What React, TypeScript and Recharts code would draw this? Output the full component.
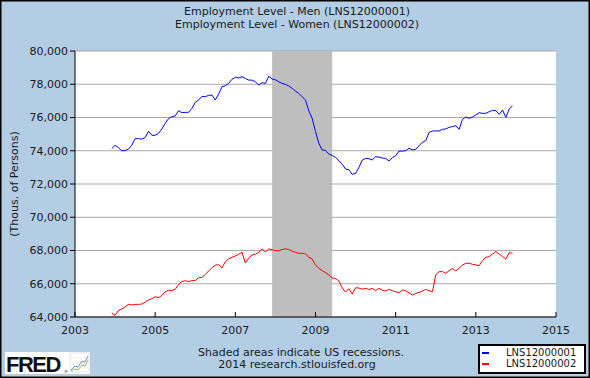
import React from 'react';
import { LineChart, Line, XAxis, YAxis, CartesianGrid, ReferenceArea } from 'recharts';

const FONT = '"DejaVu Sans", Verdana, sans-serif';
const TEXT = '#1a1a1a';

// monthly observations, Dec 2003 .. Dec 2013 (thousands of persons)
const firstYear = 2003;
const firstMonth = 12;

const men = [
  74130, 74330, 74180, 74000, 74010, 74100, 74330, 74730, 74730, 74700,
  74790, 75170, 74930, 74930, 75050, 75310, 75650, 75930, 76050, 76090,
  76410, 76290, 76310, 76310, 76550, 76910, 77050, 77270, 77250, 77330,
  77350, 77050, 77410, 77850, 77910, 78050, 78300, 78420, 78380, 78450,
  78350, 78250, 78250, 78150, 77950, 78090, 78050, 78480, 78320, 78270,
  78150, 78050, 77990, 77900, 77750, 77590, 77450, 77250, 77050, 76400,
  75950, 75150, 74450, 74040, 74020, 73800, 73720, 73600, 73400, 73180,
  72900, 72860, 72580, 72640, 73000, 73440, 73540, 73520, 73450, 73640,
  73620, 73560, 73540, 73380, 73580, 73700, 73980, 73980, 74000, 74150,
  74050, 74090, 74300, 74510, 74600, 75100, 75190, 75190, 75190, 75290,
  75310, 75410, 75450, 75510, 75290, 75890, 76030, 75950, 76030, 76150,
  76290, 76250, 76250, 76350, 76430, 76410, 76190, 76450, 76010, 76510,
  76710,
];

const women = [
  64240, 64100, 64390, 64480, 64620, 64760, 64720, 64760, 64760, 64780,
  64900, 65020, 65100, 65220, 65160, 65300, 65520, 65600, 65600, 65660,
  65950, 66140, 66180, 66140, 66180, 66200, 66360, 66380, 66550, 66770,
  66970, 67110, 67150, 66950, 67330, 67490, 67590, 67670, 67770, 67890,
  67250, 67550, 67730, 67770, 67890, 68100, 67910, 68100, 68040, 68000,
  67980, 68060, 68100, 68060, 67960, 67890, 67830, 67830, 67810, 67590,
  67490, 67130, 66930, 66790, 66670, 66530, 66350, 66310, 66170, 65750,
  65500, 65700, 65380, 65760, 65740, 65680, 65720, 65660, 65720, 65600,
  65720, 65620, 65560, 65660, 65580, 65520, 65460, 65620, 65580, 65460,
  65320, 65420, 65480, 65560, 65660, 65580, 65520, 66530, 66730, 66730,
  66630, 66790, 66910, 66770, 66930, 67130, 67230, 67230, 67170, 67130,
  67090, 67390, 67590, 67630, 67790, 67930, 67790, 67630, 67490, 67870,
  67830,
];

const yearTicks = [2003, 2005, 2007, 2009, 2011, 2013, 2015];
const valueTicks = [64000, 66000, 68000, 70000, 72000, 74000, 76000, 78000, 80000];

// Dec 2007 - Jun 2009
const recessionStart = 2007 + 11 / 12;
const recessionEnd = 2009 + 5 / 12;

const data = men.map((v, i) => ({
  t: firstYear + (firstMonth - 1 + i) / 12,
  men: v,
  women: women[i],
}));

const YearTick = (props: any) => {
  const { x, y, payload } = props;
  return (
    <g>
      <line x1={x} x2={x} y1={y} y2={y - 5} stroke="#000" />
      <text x={x} y={y + 17} textAnchor="middle" fontSize={11} fill={TEXT} fontFamily={FONT}>
        {payload.value}
      </text>
    </g>
  );
};

const fmt = (v: number) => v.toLocaleString('en-US');

export default function App() {
  return (
    <div style={{ position: 'absolute', left: 0, top: 0, width: 590, height: 378, background: '#b3cde5' }}>
      <div style={{ position: 'absolute', left: 0, top: 0 }}>
        <LineChart width={590} height={378} data={data} margin={{ top: 51, right: 34, bottom: 0, left: 0 }}>
          <CartesianGrid vertical={false} stroke="#a9a9a9" fill="#ffffff" />
          <ReferenceArea x1={recessionStart} x2={recessionEnd} fill="#bebebe" fillOpacity={1} stroke="none" />
          <XAxis
            dataKey="t"
            type="number"
            domain={[2003, 2015]}
            ticks={yearTicks}
            interval={0}
            height={61}
            tickSize={0}
            tickMargin={0}
            tick={<YearTick />}
            axisLine={{ stroke: '#000' }}
          />
          <YAxis
            type="number"
            domain={[64000, 80000]}
            ticks={valueTicks}
            interval={0}
            width={75}
            tickSize={5}
            tickMargin={2}
            tickFormatter={fmt}
            tick={{ fontSize: 11, fill: TEXT, fontFamily: FONT }}
            tickLine={{ stroke: '#000' }}
            axisLine={{ stroke: '#000' }}
          />
          <Line type="linear" dataKey="men" stroke="#0000ff" strokeWidth={1} dot={false} isAnimationActive={false} />
          <Line type="linear" dataKey="women" stroke="#ff0000" strokeWidth={1} dot={false} isAnimationActive={false} />
        </LineChart>
      </div>
      <svg width={590} height={378} style={{ position: 'absolute', left: 0, top: 0, pointerEvents: 'none' }}>
        <g fontFamily={FONT} fill={TEXT} fontSize={11}>
          <text x={297} y={15} textAnchor="middle">Employment Level - Men (LNS12000001)</text>
          <text x={297} y={28} textAnchor="middle">Employment Level - Women (LNS12000002)</text>
          <text x={18} y={184} textAnchor="middle" transform="rotate(-90 18 184)">(Thous. of Persons)</text>
          <text x={301} y={356} textAnchor="middle">Shaded areas indicate US recessions.</text>
          <text x={297} y={368} textAnchor="middle">2014 research.stlouisfed.org</text>
        </g>
        <g>
          <rect x={479} y={345} width={106} height={28} fill="#fff" stroke="#000" strokeWidth={2} />
          <line x1={482} x2={489} y1={353} y2={353} stroke="#0000ff" strokeWidth={2} />
          <line x1={482} x2={489} y1={364} y2={364} stroke="#ff0000" strokeWidth={2} />
          <text x={506} y={356} fontSize={10} fontFamily={FONT} fill={TEXT}>LNS12000001</text>
          <text x={506} y={367} fontSize={10} fontFamily={FONT} fill={TEXT}>LNS12000002</text>
        </g>
        <g>
          <rect x={5} y={352} width={85} height={22} fill="#fff" />
          <text x={6} y={372} fontSize={22} fontWeight="bold" letterSpacing={-1.5} fontFamily='"Liberation Sans", Arial, sans-serif' fill="#111">FRED</text>
          <text x={64} y={373} fontSize={4} fontFamily={FONT} fill="#111">®</text>
          <rect x={70} y={353} width={19} height={19} fill="#fff" stroke="#ccc" strokeWidth={0.5} />
          <line x1={70} x2={89} y1={358} y2={358} stroke="#ddd" strokeWidth={0.5} />
          <line x1={70} x2={89} y1={363} y2={363} stroke="#ddd" strokeWidth={0.5} />
          <line x1={70} x2={89} y1={368} y2={368} stroke="#ddd" strokeWidth={0.5} />
          <polyline points="71,370 75,366 78,367 82,361 85,362 88,356" fill="none" stroke="#6a8fd0" strokeWidth={1} />
          <polyline points="71,371 75,369 78,370 82,365 85,366 88,360" fill="none" stroke="#8fbf5a" strokeWidth={1} />
        </g>
        <rect x={0} y={0} width={590} height={378} fill="none" stroke="#000" strokeWidth={3} />
      </svg>
    </div>
  );
}
